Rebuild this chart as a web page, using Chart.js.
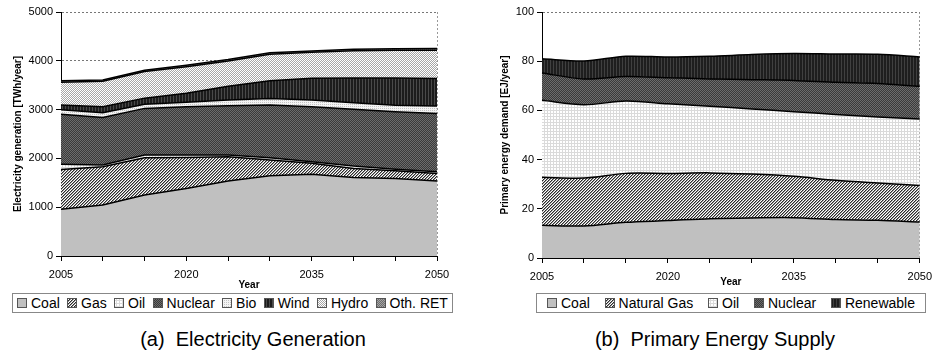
<!DOCTYPE html>
<html>
<head>
<meta charset="utf-8">
<script src="https://cdn.jsdelivr.net/npm/chart.js@4"></script>
<style>
    body { margin: 0; width: 939px; height: 364px; background: #fff; position: relative; overflow: hidden; font-family: "Liberation Sans", Arial, sans-serif; color: #000; }
    .panel { position: absolute; top: 0; }
    .legend { position: absolute; top: 293px; height: 20px; box-sizing: border-box; border: 1px solid #888; display: flex; align-items: center; justify-content: space-between; padding: 0 4px; font-size: 14px; }
    .legend .item { display: flex; align-items: center; white-space: nowrap; }
    .legend canvas { margin-right: 4px; }
    .caption { position: absolute; top: 328px; font-size: 20px; white-space: pre; transform: translateX(-50%); }
</style>
</head>
<body>
<canvas id="elecChart" class="panel" style="left:0" width="470" height="292"></canvas>
<canvas id="pesChart" class="panel" style="left:470px" width="469" height="292"></canvas>
<div id="elecLegend" class="legend" style="left:12px; width:441px"></div>
<div id="pesLegend" class="legend" style="left:536px; width:390px; padding:0 10px"></div>
<div class="caption" style="left:253px">(a)  Electricity Generation</div>
<div class="caption" style="left:715px">(b)  Primary Energy Supply</div>

<script>
const years = ['2005', '2010', '2015', '2020', '2025', '2030', '2035', '2040', '2045', '2050'];

// (a) electricity generation, TWh/year
const elecLabels = ['Coal', 'Gas', 'Oil', 'Nuclear', 'Bio', 'Wind', 'Hydro', 'Oth. RET'];
const elecCoal    = [960, 1045, 1250, 1385, 1535, 1645, 1675, 1610, 1590, 1535];
const elecGas     = [815, 785, 765, 635, 500, 320, 225, 185, 155, 155];
const elecOil     = [105, 35, 55, 50, 35, 50, 30, 50, 35, 35];
const elecNuclear = [1025, 975, 955, 990, 1010, 1080, 1130, 1160, 1175, 1195];
const elecBio     = [90, 95, 85, 90, 115, 135, 135, 135, 135, 155];
const elecWind    = [100, 125, 125, 185, 285, 360, 445, 510, 560, 560];
const elecHydro   = [465, 520, 545, 545, 515, 545, 535, 555, 565, 580];
const elecOthRet  = [30, 25, 25, 30, 30, 30, 25, 30, 30, 35];
const elecTicks   = [0, 1000, 2000, 3000, 4000, 5000];

// (b) primary energy supply, EJ/year
const pesLabels   = ['Coal', 'Natural Gas', 'Oil', 'Nuclear', 'Renewable'];
const pesCoal     = [13.3, 13.0, 14.5, 15.2, 16.0, 16.3, 16.4, 15.6, 15.3, 14.6];
const pesGas      = [19.5, 19.5, 19.9, 19.2, 18.6, 17.8, 16.8, 16.0, 15.2, 14.9];
const pesOil      = [31.3, 29.8, 29.4, 28.3, 27.1, 26.5, 26.3, 26.7, 26.8, 27.0];
const pesNuclear  = [11.1, 10.5, 10.0, 10.6, 11.1, 11.9, 12.7, 13.1, 13.6, 13.3];
const pesRenew    = [5.8, 7.3, 8.2, 8.4, 9.2, 10.2, 10.9, 11.5, 11.9, 11.9];
const pesTicks    = [0, 20, 40, 60, 80, 100];

// Excel-ish fill textures, built from tiny tiles
function tile(size, paint) {
    const c = document.createElement('canvas');
    c.width = size; c.height = size;
    const ctx = c.getContext('2d');
    for (let y = 0; y < size; y++) {
        for (let x = 0; x < size; x++) {
            ctx.fillStyle = paint(x, y);
            ctx.fillRect(x, y, 1, 1);
        }
    }
    return ctx.createPattern(c, 'repeat');
}

const fills = {
    coal: '#c0c0c0',
    hatch: tile(3, (x, y) => ((x + y) % 3 === 0 ? '#2a2a2a' : (x + y) % 3 === 1 ? '#9a9a9a' : '#ffffff')),
    oil: tile(3, (x, y) => (x === 2 || y === 2 ? '#dadada' : '#ffffff')),
    nuclear: tile(2, (x, y) => ((x + y) % 2 ? '#3a3a3a' : '#6c6c6c')),
    bio: tile(2, (x, y) => (x === 0 && y === 0 ? '#c4c4c4' : '#f4f4f4')),
    wind: tile(3, (x) => (x === 2 ? '#4a4a4a' : '#1c1c1c')),
    hydro: tile(2, (x, y) => ((x + y) % 2 ? '#a6a6a6' : '#ffffff')),
    othRet: tile(2, (x, y) => ((x + y) % 2 ? '#6e6e6e' : '#a4a4a4')),
    renew: tile(3, (x) => (x === 2 ? '#404040' : '#1e1e1e'))
};

function buildLegend(id, labels, patterns) {
    const box = document.getElementById(id);
    labels.forEach((label, i) => {
        const item = document.createElement('span');
        item.className = 'item';
        const sw = document.createElement('canvas');
        sw.width = 10; sw.height = 10;
        const ctx = sw.getContext('2d');
        ctx.fillStyle = patterns[i];
        ctx.fillRect(0, 0, 10, 10);
        ctx.strokeStyle = '#555';
        ctx.strokeRect(0.5, 0.5, 9, 9);
        item.appendChild(sw);
        item.appendChild(document.createTextNode(label));
        box.appendChild(item);
    });
}

function buildChart(id, labels, series, patterns, opts) {
    const datasets = series.map((data, i) => ({
        label: labels[i],
        data: data,
        backgroundColor: patterns[i],
        borderColor: '#000',
        borderWidth: 1.5,
        pointRadius: 0,
        tension: opts.tension,
        fill: i === 0 ? 'origin' : '-1'
    }));

    return new Chart(document.getElementById(id), {
        type: 'line',
        data: { labels: years, datasets: datasets },
        options: {
            responsive: false,
            animation: false,
            layout: { padding: { top: 12, right: opts.padRight, left: 0, bottom: 0 } },
            plugins: { legend: { display: false }, tooltip: { enabled: false } },
            scales: {
                x: {
                    offset: false,
                    grid: {
                        drawOnChartArea: true,
                        color: c => (c.index === years.length - 1 ? '#999' : 'rgba(0,0,0,0)'),
                        tickColor: '#000',
                        tickLength: 5
                    },
                    border: { color: '#000', width: 1, dash: [2, 2] },
                    ticks: {
                        autoSkip: false, maxRotation: 0, padding: 7, color: '#000',
                        font: { family: 'Liberation Sans', size: 11 },
                        callback: (v, i) => (i % 3 === 0 ? years[i] : '')
                    },
                    title: {
                        display: true, text: 'Year', color: '#000',
                        font: { family: 'Liberation Sans', size: 10, weight: 'bold' },
                        padding: { top: 0, bottom: opts.yearPad }
                    },
                    afterFit: s => { s.height = opts.xHeight; }
                },
                y: {
                    stacked: true,
                    min: opts.ticks[0],
                    max: opts.ticks[opts.ticks.length - 1],
                    afterBuildTicks: s => { s.ticks = opts.ticks.map(v => ({ value: v })); },
                    grid: { color: '#777', tickColor: '#000', tickLength: 5 },
                    border: { color: '#000', width: 1, dash: [2, 2] },
                    ticks: {
                        padding: 3, color: '#000',
                        font: { family: 'Liberation Sans', size: 11 },
                        callback: v => String(v)
                    },
                    title: {
                        display: true, text: opts.yTitle, color: '#000',
                        font: { family: 'Liberation Sans', size: 10, weight: 'bold' },
                        padding: { top: opts.yTitlePad, bottom: 0 }
                    },
                    afterFit: s => { s.width = opts.yWidth; }
                }
            }
        }
    });
}

const elecPatterns = [fills.coal, fills.hatch, fills.oil, fills.nuclear, fills.bio, fills.wind, fills.hydro, fills.othRet];
const pesPatterns = [fills.coal, fills.hatch, fills.oil, fills.nuclear, fills.renew];

buildChart('elecChart', elecLabels,
    [elecCoal, elecGas, elecOil, elecNuclear, elecBio, elecWind, elecHydro, elecOthRet],
    elecPatterns,
    { tension: 0, padRight: 33, yWidth: 61, xHeight: 36, yearPad: 1, yTitlePad: 12,
      ticks: elecTicks, yTitle: 'Electricity generation [TWh/year]' });

buildChart('pesChart', pesLabels,
    [pesCoal, pesGas, pesOil, pesNuclear, pesRenew],
    pesPatterns,
    { tension: 0.3, padRight: 15, yWidth: 72, xHeight: 34, yearPad: 4, yTitlePad: 29,
      ticks: pesTicks, yTitle: 'Primary energy demand [EJ/year]' });

buildLegend('elecLegend', elecLabels, elecPatterns);
buildLegend('pesLegend', pesLabels, pesPatterns);
</script>
</body>
</html>
